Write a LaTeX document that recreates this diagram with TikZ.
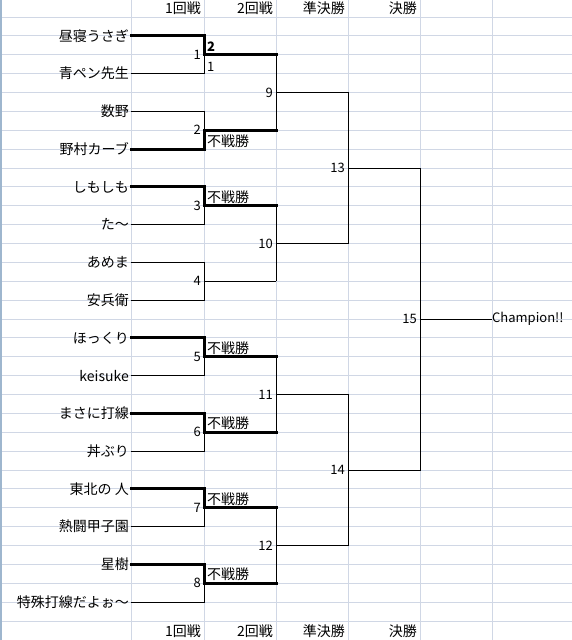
\documentclass[tikz,border=0pt]{standalone}
\usepackage{fontspec}
\setmainfont{Noto Sans CJK JP}
\usetikzlibrary{positioning, calc}
\definecolor{Grid_Blue}{HTML}{D0D7E5}
\definecolor{Edge_Blue}{HTML}{9EB6CE}

\tikzset{
  cellfont/.style={font=\fontsize{14}{16}\selectfont},
  latinfont/.style={font=\fontsize{13}{15}\selectfont},
  gridline/.style={draw=Grid_Blue, line width=1pt},
  win/.style={line width=3pt, line cap=rect},
  lose/.style={line width=1pt},
  playername/.style={cellfont, anchor=east, inner sep=0pt},
  matchno/.style={latinfont, inner sep=0pt},
  note/.style={cellfont, inner sep=0pt},
  header/.style={cellfont, anchor=east, inner sep=0pt}
}

\begin{document}
\begin{tikzpicture}[x=1pt, y=-1pt]
  \fill[white] (0,0) rectangle (572,640);
  \useasboundingbox (0,0) rectangle (572,640);
  \foreach \k in {0,...,32} {
    \draw[gridline] (0,{17+\k*18.875}) -- (572,{17+\k*18.875});
  }
  \foreach \x in {131,204,276,348,420,492} {
    \draw[gridline] (\x,0) -- (\x,640);
  }
  \draw[Edge_Blue, line width=1.5pt] (0.75,0) -- (0.75,640);

  \foreach \t/\x [count=\c] in {1回戦/201, 2回戦/273, 準決勝/345, 決勝/417} {
    \node[header] (ht\c) at (\x,8.5) {\t};
    \node[header] (hb\c) at (\x,631) {\t};
  }

  \foreach \j in {1,...,8} {
    \coordinate (m\j) at (204, {17+(4*\j-2)*18.875});
  }
  \foreach \j in {9,...,12} {
    \coordinate (m\j) at (276, {17+(8*(\j-8)-4)*18.875});
  }
  \coordinate (m13) at (348, {17+8*18.875});
  \coordinate (m14) at (348, {17+24*18.875});
  \coordinate (m15) at (420, {17+16*18.875});
  \node[note, latinfont, anchor=west] (champ) at (492, {17+16*18.875}) {Champion!!};

  \foreach \pname/\st [count=\i] in {昼寝うさぎ/win, 青ペン先生/lose, 数野/lose, 野村カーブ/win,
      しもしも/win, た〜/lose, あめま/lose, 安兵衛/lose,
      ほっくり/win, keisuke/lose, まさに打線/win, 丼ぶり/lose,
      東北の 人/win, 熱闘甲子園/lose, 星樹/win, 特殊打線だよぉ〜/lose} {
    \pgfmathtruncatemacro{\mt}{(\i+1)/2}
    \node[playername] (n\i) at (129, {17+(2*\i-1)*18.875}) {\pname};
    \coordinate (s\i) at (131, {17+(2*\i-1)*18.875});
    \draw[\st] (s\i) -| (m\mt);
  }

  \foreach \j/\st in {1/win, 2/win, 3/win, 4/lose, 5/win, 6/win, 7/win, 8/win} {
    \pgfmathtruncatemacro{\up}{8+(\j+1)/2}
    \draw[\st] (m\j) -- (m\j -| m\up);
    \draw[lose] (m\j -| m\up) -- (m\up);
  }
  \foreach \j in {9,...,12} {
    \pgfmathtruncatemacro{\up}{13+(\j-9)/2}
    \draw[lose] (m\j) -- (m\j -| m\up) -- (m\up);
  }
  \draw[lose] (m13) -- (m13 -| m15) -- (m15);
  \draw[lose] (m14) -- (m14 -| m15) -- (m15);
  \draw[lose] (m15) -- (champ.west);

  \foreach \j in {1,...,15} {
    \node[matchno, left=3pt of m\j] (l\j) {\j};
  }

  \node[note, anchor=south west, font=\fontsize{13}{15}\selectfont\bfseries] (sc1) at ($(m1)+(3,-3)$) {2};
  \node[note, latinfont, anchor=north west] (sc2) at ($(m1)+(3,7)$) {1};
  \node[note, anchor=north west] (bye2) at ($(m2)+(3,4)$) {不戦勝};
  \foreach \j in {3,5,6,7,8} {
    \node[note, anchor=south west] (bye\j) at ($(m\j)+(3,-2)$) {不戦勝};
  }
\end{tikzpicture}
\end{document}
